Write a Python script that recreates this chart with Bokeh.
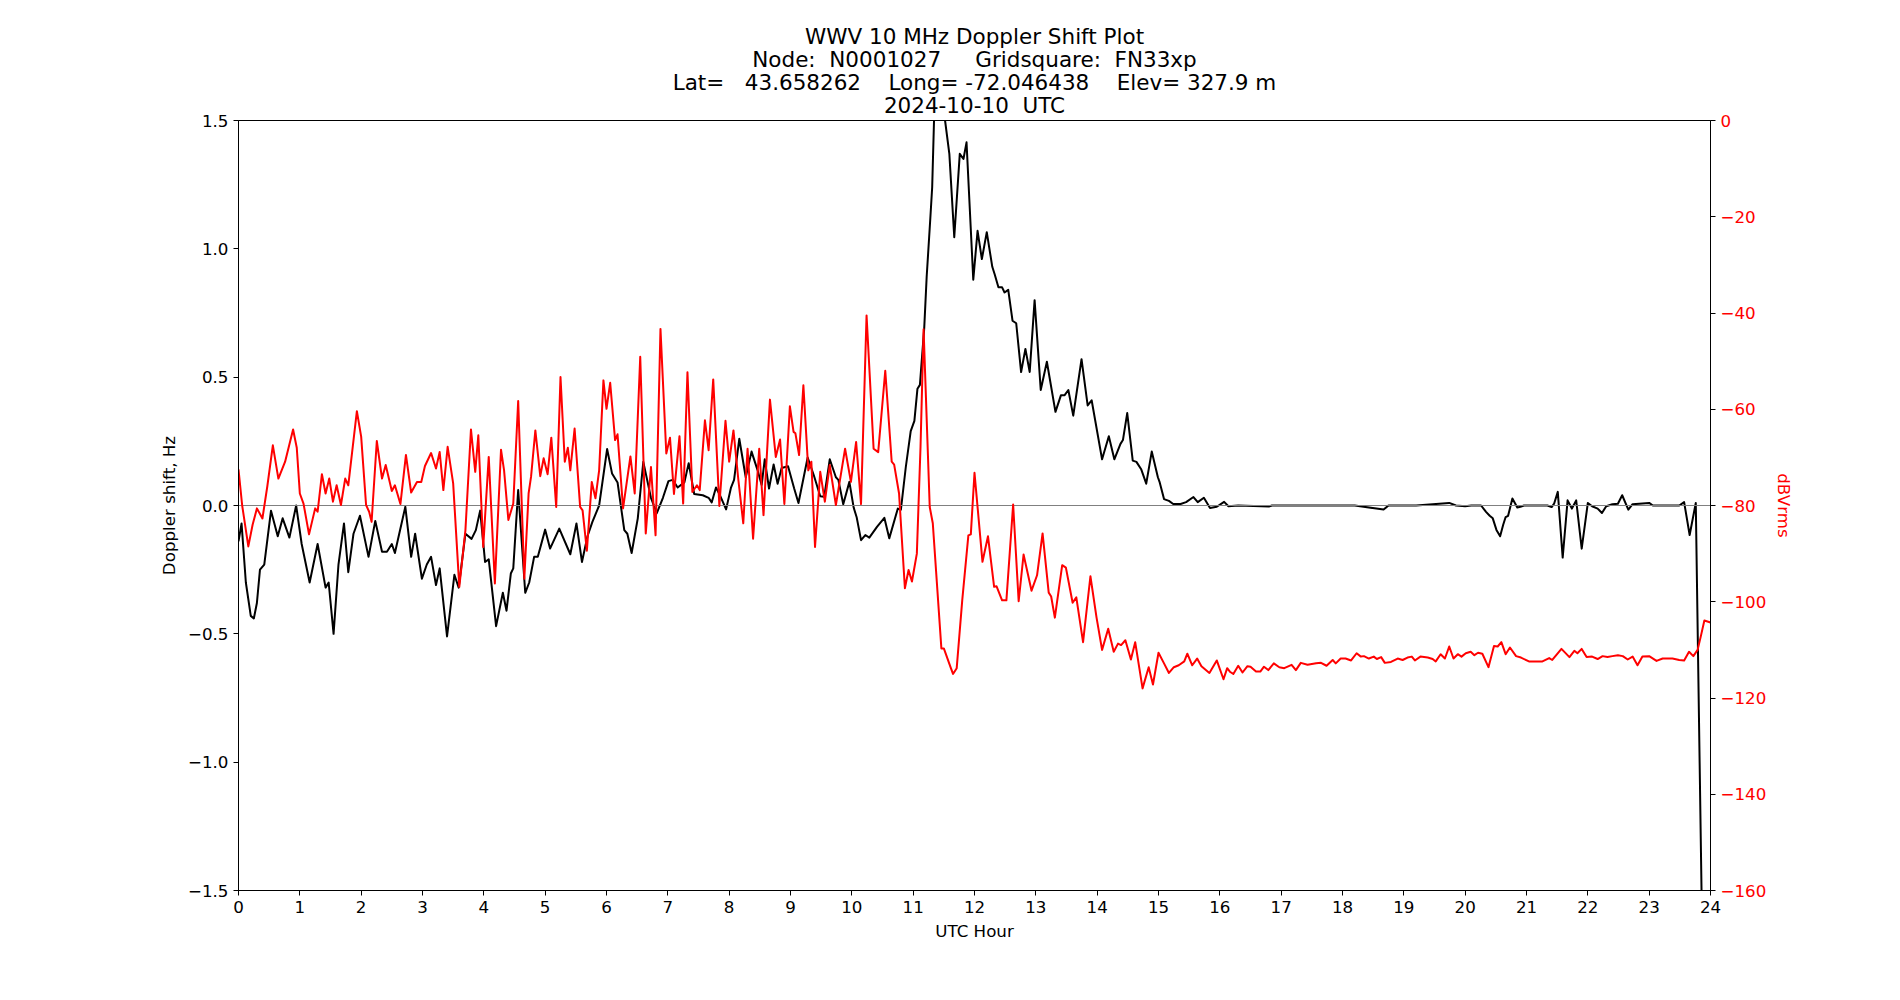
import re
from bokeh.plotting import figure
from bokeh.models import Range1d, LinearAxis, FixedTicker, CustomJSTickFormatter, Title
from bokeh.embed import file_html
from bokeh.resources import INLINE

TITLE_LINES = [
    "WWV 10 MHz Doppler Shift Plot",
    "Node:  N0001027     Gridsquare:  FN33xp",
    "Lat=   43.658262    Long= -72.046438    Elev= 327.9 m",
    "2024-10-10  UTC",
]
X_LABEL = "UTC Hour"
Y_LABEL = "Doppler shift, Hz"
Y2_LABEL = "dBVrms"
X_TICKS = list(range(0, 25))
Y_TICKS = [-1.5, -1.0, -0.5, 0.0, 0.5, 1.0, 1.5]
Y2_TICKS = [-160, -140, -120, -100, -80, -60, -40, -20, 0]

# Doppler shift (Hz) vs UTC hour
doppler_hour = [
    0.0, 0.05, 0.12, 0.2, 0.25, 0.3, 0.35, 0.42, 0.53, 0.64, 0.72, 0.83, 0.94, 1.03, 1.16, 1.29,
    1.42, 1.47, 1.55, 1.63, 1.72, 1.79, 1.875, 1.98, 2.12, 2.23, 2.34, 2.42, 2.5, 2.55, 2.72,
    2.815, 2.88, 2.99, 3.07, 3.14, 3.22, 3.28, 3.40, 3.52, 3.59, 3.70, 3.80, 3.87, 3.94, 4.02,
    4.08, 4.2, 4.31, 4.37, 4.44, 4.48, 4.56, 4.675, 4.74, 4.82, 4.88, 5.0, 5.08, 5.23, 5.41,
    5.51, 5.6, 5.69, 5.77, 5.88, 6.01, 6.09, 6.18, 6.29, 6.34, 6.41, 6.51, 6.6, 6.725, 6.82,
    6.92, 7.01, 7.08, 7.16, 7.27, 7.34, 7.43, 7.57, 7.665, 7.715, 7.785, 7.84, 7.95, 8.03,
    8.08, 8.165, 8.27, 8.365, 8.46, 8.53, 8.58, 8.65, 8.725, 8.79, 8.855, 8.96, 9.06, 9.13,
    9.28, 9.38, 9.485, 9.55, 9.64, 9.74, 9.78, 9.86, 9.96, 10.03, 10.08, 10.15, 10.22, 10.285,
    10.41, 10.53, 10.61, 10.75, 10.8, 10.88, 10.96, 11.02, 11.07, 11.11, 11.18, 11.22, 11.28,
    11.31, 11.34, 11.43, 11.52, 11.59, 11.67, 11.76, 11.82, 11.87, 11.98, 12.05, 12.12, 12.2,
    12.29, 12.33, 12.39, 12.45, 12.49, 12.55, 12.62, 12.68, 12.76, 12.83, 12.9, 12.98, 13.08,
    13.18, 13.32, 13.41, 13.47, 13.53, 13.61, 13.745, 13.845, 13.91, 14.08, 14.19, 14.28,
    14.38, 14.42, 14.49, 14.58, 14.64, 14.72, 14.8, 14.89, 14.99, 15.02, 15.09, 15.17, 15.24,
    15.36, 15.45, 15.57, 15.64, 15.74, 15.84, 15.95, 16.07, 16.14, 16.3, 16.8, 16.85, 17.0,
    18.2, 18.67, 18.75, 19.2, 19.74, 19.85, 20.0, 20.1, 20.26, 20.34, 20.4, 20.45, 20.51,
    20.57, 20.62, 20.66, 20.7, 20.77, 20.85, 20.9, 20.96, 21.34, 21.41, 21.45, 21.51, 21.59,
    21.67, 21.74, 21.81, 21.9, 22.0, 22.07, 22.16, 22.23, 22.3, 22.4, 22.49, 22.56, 22.66,
    22.73, 23.0, 23.06, 23.49, 23.57, 23.66, 23.76, 23.86, 23.93,
]
doppler_hz = [
    -0.14, -0.07, -0.3, -0.43, -0.44, -0.38, -0.25, -0.23, -0.02, -0.12, -0.05, -0.125, 0.0,
    -0.15, -0.30, -0.15, -0.32, -0.30, -0.50, -0.23, -0.07, -0.26, -0.11, -0.04, -0.20, -0.06,
    -0.18, -0.18, -0.15, -0.185, -0.005, -0.2, -0.11, -0.285, -0.23, -0.2, -0.31, -0.245,
    -0.51, -0.27, -0.32, -0.11, -0.13, -0.096, -0.02, -0.22, -0.21, -0.47, -0.34, -0.41,
    -0.265, -0.245, 0.06, -0.34, -0.30, -0.20, -0.20, -0.094, -0.168, -0.09, -0.19, -0.07,
    -0.22, -0.12, -0.064, 0.0, 0.22, 0.125, 0.09, -0.096, -0.11, -0.185, -0.05, 0.17, 0.03,
    -0.03, 0.03, 0.095, 0.10, 0.07, 0.09, 0.165, 0.045, 0.04, 0.03, 0.012, 0.07, 0.045,
    -0.015, 0.07, 0.10, 0.26, 0.11, 0.21, 0.14, 0.08, 0.18, 0.066, 0.16, 0.085, 0.146, 0.153,
    0.066, 0.01, 0.187, 0.118, 0.036, 0.034, 0.18, 0.11, 0.10, 0.005, 0.092, -0.008, -0.047,
    -0.135, -0.115, -0.125, -0.083, -0.048, -0.128, -0.012, -0.016, 0.15, 0.29, 0.33, 0.455,
    0.47, 0.69, 0.89, 1.12, 1.24, 1.5, 1.9, 1.5, 1.37, 1.045, 1.37, 1.35, 1.415, 0.88, 1.07,
    0.96, 1.065, 0.93, 0.9, 0.85, 0.85, 0.83, 0.84, 0.72, 0.71, 0.52, 0.61, 0.52, 0.8, 0.45,
    0.56, 0.365, 0.43, 0.43, 0.45, 0.35, 0.57, 0.39, 0.41, 0.18, 0.27, 0.18, 0.24, 0.255,
    0.36, 0.175, 0.17, 0.14, 0.085, 0.21, 0.11, 0.09, 0.025, 0.018, 0.006, 0.006, 0.013,
    0.033, 0.013, 0.03, -0.01, -0.005, 0.014, -0.003, 0.0, -0.004, 0.0, 0.0, 0.0, -0.016,
    0.0, 0.0, 0.01, 0.0, -0.003, 0.0, 0.0, -0.025, -0.04, -0.05, -0.095, -0.12, -0.075,
    -0.045, -0.04, 0.027, -0.008, -0.005, 0.0, 0.0, -0.006, 0.007, 0.053, -0.203, 0.02,
    -0.012, 0.02, -0.168, 0.01, -0.003, -0.012, -0.029, -0.003, 0.005, 0.007, 0.04, -0.016,
    0.005, 0.01, 0.0, 0.0, 0.013, -0.115, 0.01, -1.6, -2.85,
]

# Received level (dBVrms) vs UTC hour
level_hour = [
    0.0, 0.06, 0.16, 0.23, 0.3, 0.39, 0.47, 0.56, 0.65, 0.76, 0.89, 0.95, 1.0, 1.06, 1.15,
    1.25, 1.29, 1.36, 1.42, 1.48, 1.54, 1.6, 1.67, 1.74, 1.79, 1.93, 2.0, 2.08, 2.13, 2.17,
    2.255, 2.34, 2.4, 2.5, 2.55, 2.64, 2.73, 2.815, 2.91, 2.98, 3.04, 3.14, 3.22, 3.28, 3.34,
    3.41, 3.5, 3.6, 3.7, 3.79, 3.86, 3.91, 3.99, 4.08, 4.18, 4.28, 4.33, 4.4, 4.48, 4.56,
    4.66, 4.73, 4.77, 4.84, 4.92, 4.975, 5.04, 5.1, 5.18, 5.25, 5.32, 5.37, 5.41, 5.48, 5.57,
    5.61, 5.68, 5.76, 5.82, 5.88, 5.95, 6.0, 6.06, 6.14, 6.18, 6.27, 6.39, 6.46, 6.55, 6.64,
    6.725, 6.8, 6.88, 6.975, 7.035, 7.1, 7.19, 7.25, 7.32, 7.4, 7.475, 7.52, 7.605, 7.665,
    7.74, 7.84, 7.94, 8.0, 8.07, 8.15, 8.23, 8.3, 8.39, 8.49, 8.56, 8.665, 8.76, 8.83, 8.9,
    8.99, 9.05, 9.08, 9.14, 9.21, 9.29, 9.34, 9.4, 9.485, 9.56, 9.64, 9.74, 9.89, 9.985,
    10.07, 10.15, 10.24, 10.355, 10.43, 10.545, 10.65, 10.69, 10.77, 10.865, 10.925, 10.98,
    11.06, 11.12, 11.17, 11.27, 11.32, 11.46, 11.5, 11.615, 11.65, 11.71, 11.8, 11.9, 11.94,
    12.0, 12.13, 12.22, 12.32, 12.36, 12.45, 12.52, 12.63, 12.72, 12.8, 12.93, 13.02, 13.11,
    13.21, 13.25, 13.31, 13.43, 13.49, 13.6, 13.66, 13.77, 13.89, 13.99, 14.08, 14.18, 14.27,
    14.34, 14.39, 14.46, 14.55, 14.62, 14.74, 14.84, 14.91, 15.0, 15.09, 15.17, 15.25, 15.33,
    15.42, 15.47, 15.55, 15.63, 15.7, 15.83, 15.95, 16.06, 16.12, 16.17, 16.22, 16.3, 16.37,
    16.45, 16.5, 16.59, 16.66, 16.72, 16.79, 16.88, 16.97, 17.05, 17.17, 17.24, 17.32, 17.43,
    17.57, 17.65, 17.74, 17.84, 17.89, 17.97, 18.05, 18.14, 18.23, 18.3, 18.35, 18.43, 18.51,
    18.56, 18.63, 18.69, 18.79, 18.9, 18.98, 19.06, 19.13, 19.18, 19.27, 19.39, 19.47, 19.52,
    19.6, 19.67, 19.74, 19.81, 19.88, 19.94, 20.01, 20.09, 20.15, 20.21, 20.28, 20.38, 20.47,
    20.53, 20.59, 20.66, 20.73, 20.83, 20.91, 21.04, 21.26, 21.37, 21.42, 21.57, 21.7, 21.78,
    21.83, 21.9, 21.98, 22.07, 22.16, 22.24, 22.32, 22.4, 22.49, 22.57, 22.65, 22.73, 22.81,
    22.89, 23.0, 23.12, 23.22, 23.38, 23.49, 23.57, 23.65, 23.72, 23.79, 23.84, 23.9, 23.95,
    24.0,
]
level_db = [
    -72.5, -80, -88.5, -84, -80.6, -82.7, -76, -67.5, -74.4, -70.9, -64.2, -68, -77.5, -79.6,
    -86, -80.6, -81.3, -73.5, -77.5, -74.4, -79.2, -75.8, -79.9, -74.4, -75.8, -60.4, -65.7,
    -79.9, -81.3, -83.4, -66.6, -74.4, -71.6, -77, -75.8, -79.7, -69.5, -77.3, -75.1, -75.1,
    -71.8, -69.1, -72.3, -68.9, -76.8, -67.8, -75.4, -96.9, -85.1, -64.2, -73, -65.4, -88.6,
    -69.9, -96.2, -68.4, -72.7, -83, -79.6, -58.3, -95.2, -77.5, -74, -64.4, -73.9, -70.2,
    -73.5, -65.9, -80.3, -53.3, -70.9, -68, -72.7, -64, -80.3, -81, -89.4, -75.1, -78.5,
    -72.7, -54, -59.9, -54.5, -66.4, -65.2, -80.6, -69.8, -77.5, -49.1, -85.8, -72, -86.2,
    -43.3, -69.2, -65.9, -77.6, -65.6, -79.6, -52.3, -77.2, -75.8, -76.8, -62.3, -68.5,
    -53.8, -80.1, -62.4, -70.9, -64.4, -74.7, -83.7, -68.2, -86.9, -68.2, -82, -58, -69.9,
    -66.3, -79.7, -59.4, -64.7, -65, -69.5, -55, -72.7, -70.9, -88.6, -73, -79.2, -71.6,
    -79.9, -68.2, -75.1, -66.8, -79.7, -40.5, -68.2, -68.9, -52, -70.9, -71.5, -77.5, -97.2,
    -93.4, -95.8, -90, -67.8, -43.4, -80.3, -83.7, -109.7, -109.7, -113.8, -115, -113.8,
    -99.7, -86.2, -86, -73.2, -91.7, -86.4, -96.9, -96.8, -99.7, -99.7, -79.8, -99.9, -90.2,
    -97.7, -94.5, -85.8, -98.1, -98.9, -103.3, -92.4, -92.9, -100.2, -99.1, -108.4, -94.7,
    -103.3, -110, -105.6, -110.4, -108.7, -109, -108, -112, -108.4, -118, -113.6, -117.2,
    -110.6, -112.8, -114.8, -113.6, -113.2, -112.4, -110.8, -113.2, -111.8, -113.4, -114.8,
    -112.2, -116.1, -113.8, -114.6, -115, -113.3, -114.7, -113.4, -113.5, -114.5, -114.5,
    -113.5, -114.2, -112.8, -113.6, -113.8, -113.1, -114.2, -112.7, -113.1, -112.8, -112.7,
    -113.3, -112.1, -112.8, -111.8, -111.8, -112.2, -110.7, -111.4, -111.3, -111.8, -111.4,
    -111.9, -111.5, -112.7, -112.5, -111.8, -112.1, -111.6, -111.4, -112.2, -111.4, -111.6,
    -111.9, -112.4, -110.9, -111.8, -109.3, -111.8, -110.9, -111.4, -110.7, -110.4, -111.1,
    -110.6, -110.8, -113.6, -109.2, -109.3, -108.4, -110.9, -109.5, -111.3, -111.6, -112.4,
    -112.4, -111.7, -112.1, -109.8, -111.5, -110.2, -110.7, -109.8, -111.5, -111.4, -111.9,
    -111.3, -111.5, -111.3, -111.1, -111.3, -112, -111.4, -113.2, -111.4, -111.3, -112.3,
    -111.8, -111.8, -112.1, -112.2, -110.4, -111.3, -110, -107.3, -103.9, -104.1, -104.3,
]

FONT = "DejaVu Sans"
TICK_SIZE = "16.7px"

p = figure(
    width=1900, height=1000,
    output_backend="svg", toolbar_location=None,
    x_range=Range1d(0, 24), y_range=Range1d(-1.5, 1.5),
    min_border_left=238, min_border_right=190, min_border_top=120, min_border_bottom=110,
    background_fill_color="white", border_fill_color="white",
)
p.extra_y_ranges = {"db": Range1d(-160, 0)}

p.outline_line_color = "black"
p.outline_line_width = 1
p.outline_line_alpha = 1
p.xgrid.visible = False
p.ygrid.visible = False

# Four-line title (added bottom-up so the first line ends on top)
for i, line in enumerate(reversed(TITLE_LINES)):
    txt = re.sub(r" {2,}", lambda m: "\u00a0" * len(m.group()), line)
    if i == 0:
        t = Title(text=txt, align="center", text_font=FONT, text_font_size="21.5px",
                  text_font_style="normal", text_color="black", standoff=1,
                  vertical_align="top")
    else:
        t = Title(text=txt, align="center", text_font=FONT, text_font_size="21.5px",
                  text_font_style="normal", text_color="black", standoff=-4)
    p.add_layout(t, "above")


def style_axis(ax, color="black"):
    ax.axis_line_color = "black"
    ax.axis_line_width = 1
    ax.major_tick_line_color = "black"
    ax.major_tick_out = 5
    ax.major_tick_in = 0
    ax.minor_tick_line_color = None
    ax.major_label_text_font = FONT
    ax.major_label_text_font_size = TICK_SIZE
    ax.major_label_text_color = color
    ax.major_label_standoff = 5
    ax.axis_label_text_font = FONT
    ax.axis_label_text_font_size = TICK_SIZE
    ax.axis_label_text_font_style = "normal"
    ax.axis_label_text_color = color


xax = p.xaxis[0]
style_axis(xax)
xax.ticker = FixedTicker(ticks=X_TICKS)
xax.axis_label = X_LABEL
xax.axis_label_standoff = 5

yax = p.yaxis[0]
style_axis(yax)
yax.ticker = FixedTicker(ticks=Y_TICKS)
yax.formatter = CustomJSTickFormatter(code="return tick.toFixed(1).replace('-', '\\u2212');")
yax.axis_label = Y_LABEL
yax.axis_label_standoff = 6

y2 = LinearAxis(y_range_name="db")
style_axis(y2, color="red")
y2.ticker = FixedTicker(ticks=Y2_TICKS)
y2.formatter = CustomJSTickFormatter(code="return tick.toFixed(0).replace('-', '\\u2212');")
y2.axis_label = Y2_LABEL
y2.axis_label_standoff = 5
p.add_layout(y2, "right")

p.line(doppler_hour, doppler_hz, line_color="black", line_width=2, line_join="round")
p.hspan(y=[0.0], line_color="gray", line_width=1)
p.line(level_hour, level_db, line_color="red", line_width=2, line_join="round",
       y_range_name="db")

open("out.html", "w").write(file_html(p, INLINE))
